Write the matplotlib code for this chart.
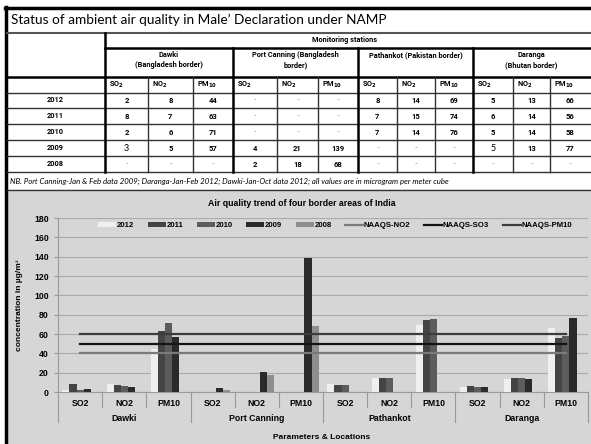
import matplotlib
matplotlib.use("Agg")
import matplotlib.pyplot as plt
from matplotlib.patches import Rectangle
import numpy as np

nan = np.nan

# data (rows = years, columns = SO2, NO2, PM10), units: microgram per m3
years = ["2012", "2011", "2010", "2009", "2008"]
stations = ["Dawki", "Port Canning", "Pathankot", "Daranga"]
station_heads = ["Dawki\n(Bangladesh border)", "Port Canning (Bangladesh\nborder)",
                 "Pathankot (Pakistan border)", "Daranga\n(Bhutan border)"]
params = ["SO2", "NO2", "PM10"]
dawki = [[2, 8, 44], [8, 7, 63], [2, 6, 71], [3, 5, 57], [nan, nan, nan]]
port_canning = [[nan, nan, nan], [nan, nan, nan], [nan, nan, nan], [4, 21, 139], [2, 18, 68]]
pathankot = [[8, 14, 69], [7, 15, 74], [7, 14, 76], [nan, nan, nan], [nan, nan, nan]]
daranga = [[5, 13, 66], [6, 14, 56], [5, 14, 58], [5, 13, 77], [nan, nan, nan]]
naaqs_no2 = 40
naaqs_so3 = 50
naaqs_pm10 = 60

title = "Status of ambient air quality in Male\u2019 Declaration under NAMP"
note = ("NB. Port Canning-Jan & Feb data 2009; Daranga-Jan-Feb 2012; "
        "Dawki-Jan-Oct data 2012; all values are in microgram per meter cube")

year_colors = ["#efefef", "#444444", "#5c5c5c", "#2a2a2a", "#8e8e8e"]

allst = [dawki, port_canning, pathankot, daranga]
table = np.hstack([np.array(s, dtype=float) for s in allst])  # 5 x 12

fig = plt.figure(figsize=(5.91, 4.44), dpi=100)

# ---- table part, drawn in pixel coords
tab = fig.add_axes([0, 0, 1, 1])
tab.set_xlim(0, 591)
tab.set_ylim(444, 0)
tab.axis("off")

tfont = "Lato"
bfont = "Roboto"
tab.add_patch(Rectangle((7, 190), 584, 254, color="#d6d6d6", zorder=0))
tab.plot([6, 6], [7, 444], color="black", lw=2.5)
tab.plot([5, 591], [8, 8], color="black", lw=2.5)
tab.text(11, 20, title, fontsize=9.8, family=tfont, va="center", ha="left")
tab.plot([7, 591], [33, 33], color="#555555", lw=1.5)

cols = [105, 148, 193, 233, 277, 318, 358, 397, 435, 473, 513, 550, 590]
rows = [93, 108, 124, 140, 156, 172]

tab.plot([105, 590], [48, 48], color="black", lw=1.8)
tab.plot([7, 590], [77, 77], color="black", lw=1.8)
for yy in [93] + rows[1:]:
    tab.plot([7, 590], [yy, yy], color="#333333", lw=1.0)
tab.plot([7, 591], [190, 190], color="#333333", lw=1.0)
tab.plot([105, 105], [33, 172], color="black", lw=1.8)
for i, xx in enumerate(cols[1:-1]):
    if (i + 1) % 3 == 0:
        tab.plot([xx, xx], [48, 172], color="black", lw=1.8)
    else:
        tab.plot([xx, xx], [77, 172], color="#333333", lw=1.0)

tab.text(345, 40, "Monitoring stations", fontsize=5.3, family=bfont, weight="bold",
         ha="center", va="center")
for s in range(4):
    cx = (cols[s * 3] + cols[s * 3 + 3]) / 2
    tab.text(cx, 51, station_heads[s], fontsize=5.3, family=bfont, weight="bold",
             ha="center", va="top", linespacing=1.35)
    for p in range(3):
        x0 = cols[s * 3 + p] + 4
        lab = [r"SO$_\mathbf{2}$", r"NO$_\mathbf{2}$", r"PM$_\mathbf{10}$"][p]
        tab.text(x0, 85, lab, fontsize=5.3, family=bfont, weight="bold", ha="left", va="center")

for r, yr in enumerate(years):
    cy = (rows[r] + rows[r + 1]) / 2 if r > 0 else 100
    tab.text(55, cy, yr, fontsize=5.3, family=bfont, weight="bold", ha="center", va="center")
    for c in range(12):
        v = table[r, c]
        cx = (cols[c] + cols[c + 1]) / 2
        if np.isnan(v):
            tab.text(cx, cy, "-", fontsize=5.5, family=tfont, color="#888888", ha="center", va="center")
        else:
            w = "normal" if (r == 3 and c in (0, 9)) else "bold"
            tab.text(cx, cy, "%d" % v, fontsize=5.5 if w == "bold" else 6.5,
                     family=bfont if w == "bold" else tfont,
                     weight=w, ha="center", va="center")

tab.text(10, 181, note, fontsize=5.6, family=tfont, style="italic", ha="left", va="center")

# ---- chart part
ax = fig.add_axes([58 / 591, 52 / 444, 530 / 591, 174 / 444])
ax.set_facecolor("none")
x = np.arange(12)
bw = 0.16
handles = []
for i, yr in enumerate(years):
    b = ax.bar(x + (i - 2) * bw, table[i], width=bw, color=year_colors[i], label=yr, zorder=3)
    handles.append(b)
l1, = ax.plot(x, [naaqs_no2] * 12, color="#7a7a7a", lw=1.6, label="NAAQS-NO2", zorder=4)
l2, = ax.plot(x, [naaqs_so3] * 12, color="#141414", lw=1.6, label="NAAQS-SO3", zorder=4)
l3, = ax.plot(x, [naaqs_pm10] * 12, color="#3c3c3c", lw=1.6, label="NAAQS-PM10", zorder=4)
handles += [l1, l2, l3]

ax.set_xlim(-0.5, 11.5)
ax.set_ylim(0, 180)
ax.set_yticks(range(0, 181, 20))
ax.yaxis.grid(True, color="#aaaaaa", lw=0.8, zorder=0)
for sp in ["top", "right"]:
    ax.spines[sp].set_visible(False)
ax.spines["left"].set_color("#999999")
ax.spines["bottom"].set_color("#999999")
ax.set_xticks(x)
ax.set_xticklabels(params * 4)
ax.tick_params(axis="x", length=0, pad=5)
ax.tick_params(axis="y", length=3, color="#999999")
for t in ax.get_xticklabels() + ax.get_yticklabels():
    t.set_fontsize(6.3)
    t.set_fontweight("bold")
    t.set_family("Liberation Sans")

trans = ax.get_xaxis_transform()
for k in range(13):
    xx = k - 0.5
    y1 = -0.172 if k % 3 == 0 else -0.086
    ax.plot([xx, xx], [0, y1], color="#999999", lw=0.8, transform=trans, clip_on=False)
for s, name in enumerate(stations):
    ax.text(3 * s + 1, -0.155, name, transform=trans, ha="center", va="center",
            fontsize=6.3, weight="bold", family="Liberation Sans")
ax.text(0.497, -0.259, "Parameters & Locations", transform=ax.transAxes, ha="center",
        va="center", fontsize=6, weight="bold", family="Liberation Sans")
ax.set_ylabel("concentration in \u00b5g/m\u00b3", fontsize=6, weight="bold",
              family="Liberation Sans", labelpad=8)
fig.text(302 / 591, 1 - 203 / 444, "Air quality trend of four border areas of India",
         ha="center", va="center", fontsize=6.3, weight="bold", family="Liberation Sans")

leg = ax.legend(handles=handles, loc="center", bbox_to_anchor=(0.523, 0.955), ncol=8,
                frameon=False, prop={"family": "Liberation Sans", "weight": "bold", "size": 5.6},
                handlelength=2.3, handleheight=0.45, handletextpad=0.1, columnspacing=1.75,
                borderpad=0.2)

fig.savefig("out.png", dpi=100)
